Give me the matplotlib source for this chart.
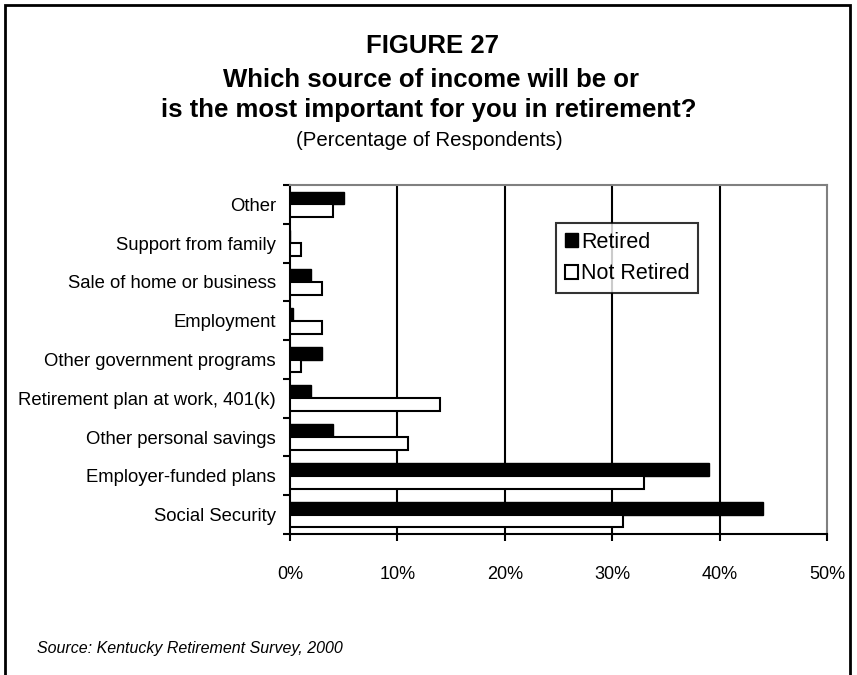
import matplotlib.pyplot as plt
import numpy as np
from matplotlib.patches import Rectangle

plt.rcParams['font.family'] = ['Liberation Sans', 'DejaVu Sans']

categories = ['Social Security', 'Employer-funded plans', 'Other personal savings',
              'Retirement plan at work, 401(k)', 'Other government programs',
              'Employment', 'Sale of home or business', 'Support from family', 'Other']
retired = [44, 39, 4, 2, 3, 0.3, 2, 0, 5]
not_retired = [31, 33, 11, 14, 1, 3, 3, 1, 4]
xticks = [0, 10, 20, 30, 40, 50]

fig = plt.figure(figsize=(8.57, 6.75), dpi=100)
ax = fig.add_axes([290/857, 1-534/675, (827-290)/857, (534-185)/675])

y = np.arange(len(categories))
h = 0.33
ax.barh(y + h/2, retired, height=h, color='black', edgecolor='black', lw=1, label='Retired', zorder=3)
ax.barh(y - h/2, not_retired, height=h, color='white', edgecolor='black', lw=1.5, label='Not Retired', zorder=3)

ax.set_xlim(0, 50)
ax.set_ylim(-0.5, len(categories) - 0.5)
ax.set_xticks(xticks)
ax.set_xticklabels([f'{v}%' for v in xticks], fontsize=13)
ax.set_yticks(y)
ax.set_yticklabels(categories, fontsize=13.3)
ax.tick_params(axis='y', length=0, pad=10)
ax.set_yticks(np.arange(-0.5, len(categories)), minor=True)
ax.tick_params(axis='y', which='minor', length=5, width=1.5, direction='out')
ax.tick_params(axis='x', length=5, width=1.5, direction='out', pad=18)
for v in xticks[1:-1]:
    ax.axvline(v, color='black', lw=1.5, zorder=1)
for s in ['left', 'bottom']:
    ax.spines[s].set_linewidth(1.5)
for s in ['top', 'right']:
    ax.spines[s].set_color('#808080')
    ax.spines[s].set_linewidth(1.5)

leg = ax.legend(loc='upper left', bbox_to_anchor=((556-290)/537, 1-(223-185)/349),
                fontsize=15.5, frameon=True, fancybox=False, edgecolor='black',
                handlelength=0.6, handleheight=0.6, handletextpad=0.15,
                labelspacing=0.5, borderpad=0.4, borderaxespad=0)
leg.get_frame().set_linewidth(1.5)

fig.text(433/857, 1-46/675, 'FIGURE 27', ha='center', va='center', fontsize=18.5, fontweight='bold')
fig.text(431/857, 1-80/675, 'Which source of income will be or', ha='center', va='center',
         fontsize=18.5, fontweight='bold')
fig.text(429/857, 1-110/675, 'is the most important for you in retirement?', ha='center',
         va='center', fontsize=18.5, fontweight='bold')
fig.text(429/857, 1-140/675, '(Percentage of Respondents)', ha='center', va='center', fontsize=14.7)
fig.text(37/857, 1-648/675, 'Source: Kentucky Retirement Survey, 2000', ha='left', va='center',
         fontsize=11.5, style='italic')

fig.add_artist(Rectangle((5/857, -0.1), (850-5)/857, 1.1 - 5/675, transform=fig.transFigure,
                         fill=False, edgecolor='black', lw=2))

fig.savefig('out.png', dpi=100)
